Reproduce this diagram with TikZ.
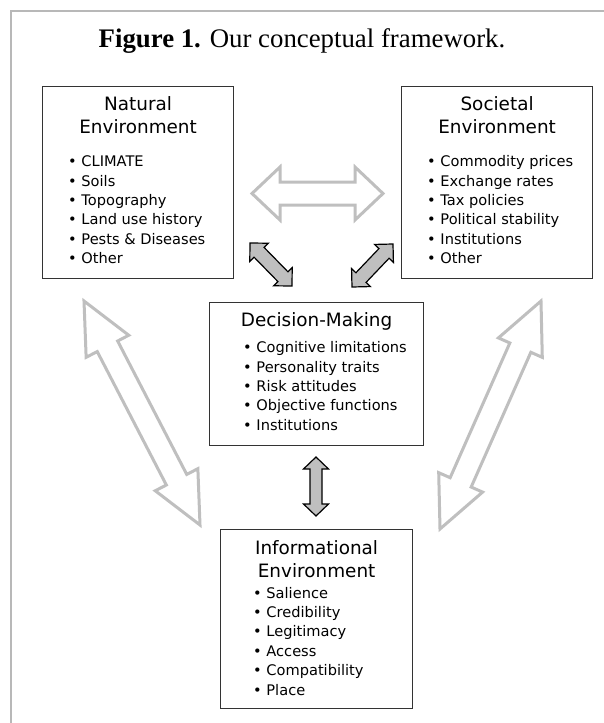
\documentclass[tikz,border=0pt]{standalone}
\usepackage{fontspec}
\setmainfont{Liberation Serif}
\newfontfamily\dejavu{DejaVu Sans}
\usetikzlibrary{calc}

\newcommand{\titlefnt}{\dejavu\fontsize{18.4}{23.2}\selectfont}
\newcommand{\listfnt}{\dejavu\fontsize{14.6}{19.4}\selectfont}

% double block arrow: [style]{from}{to}{head length}{head half width}{shaft half width}
\newcommand{\blockarrow}[6][]{%
  \path ($(#2)!#4!(#3)$) coordinate (ba-a) ($(#3)!#4!(#2)$) coordinate (ba-b);
  \draw[#1] (#2) -- ($(ba-a)!#5!90:(#3)$) -- ($(ba-a)!#6!90:(#3)$)
    -- ($(ba-b)!#6!-90:(#2)$) -- ($(ba-b)!#5!-90:(#2)$) -- (#3)
    -- ($(ba-b)!#5!90:(#2)$) -- ($(ba-b)!#6!90:(#2)$)
    -- ($(ba-a)!#6!-90:(#3)$) -- ($(ba-a)!#5!-90:(#3)$) -- cycle;
}

\begin{document}
\begin{tikzpicture}[x=1pt,y=-1pt]
\tikzset{
  envbox/.style={draw=black!80, line width=1.2pt, fill=white, inner sep=0pt, anchor=north west},
  boxtitle/.style={font=\titlefnt, align=center, inner sep=0pt, anchor=base},
  boxlist/.style={font=\listfnt, align=left, inner sep=0pt, anchor=base west},
  lightarrow/.style={draw=black!25, line width=3pt, fill=white, line join=miter},
  darkarrow/.style={draw=black, line width=1.2pt, fill=black!25, line join=miter},
  framegray/.style={draw=black!28, line width=1.5pt}
}
\useasboundingbox (0,0) rectangle (604,723);

% outer frame and caption
\draw[framegray] (11,723) -- (11,11) -- (604,11);
\node[font=\fontsize{26.8}{30}\selectfont, inner sep=0pt, anchor=base] (caption) at (302,47)
  {\textbf{Figure 1.} Our conceptual framework.};

% the four boxes
\node[envbox, minimum width=191, minimum height=192] (nat) at (42,86) {};
\node[envbox, minimum width=191, minimum height=192] (soc) at (401,86) {};
\node[envbox, minimum width=214, minimum height=143] (dec) at (209,302) {};
\node[envbox, minimum width=192, minimum height=179] (inf) at (220,529) {};

% texts (base = last line)
\node[boxtitle] (nat-title) at ($(nat.north)+(0,47.2)$) {Natural\\Environment};
\node[boxlist] (nat-list) at ($(nat.north west)+(26,177.7)$)
  {\textbullet\ CLIMATE\\\textbullet\ Soils\\\textbullet\ Topography\\
   \textbullet\ Land use history\\\textbullet\ Pests \& Diseases\\\textbullet\ Other};

\node[boxtitle] (soc-title) at ($(soc.north)+(0,47.2)$) {Societal\\Environment};
\node[boxlist] (soc-list) at ($(soc.north west)+(26,177.7)$)
  {\textbullet\ Commodity prices\\\textbullet\ Exchange rates\\\textbullet\ Tax policies\\
   \textbullet\ Political stability\\\textbullet\ Institutions\\\textbullet\ Other};

\node[boxtitle] (dec-title) at ($(dec.north)+(0,24)$) {Decision-Making};
\node[boxlist] (dec-list) at ($(dec.north west)+(34,128.3)$)
  {\textbullet\ Cognitive limitations\\\textbullet\ Personality traits\\\textbullet\ Risk attitudes\\
   \textbullet\ Objective functions\\\textbullet\ Institutions};

\node[boxtitle] (inf-title) at ($(inf.north)+(0,48.6)$) {Informational\\Environment};
\node[boxlist] (inf-list) at ($(inf.north west)+(33,166)$)
  {\textbullet\ Salience\\\textbullet\ Credibility\\\textbullet\ Legitimacy\\
   \textbullet\ Access\\\textbullet\ Compatibility\\\textbullet\ Place};

% arrow ends
\coordinate (nat-soc-a) at (252,193.5);
\coordinate (nat-soc-b) at (383,193.5);
\coordinate (nat-inf-a) at (84,301);
\coordinate (nat-inf-b) at (200,525);
\coordinate (soc-inf-a) at (541,301);
\coordinate (soc-inf-b) at (440,529);
\coordinate (nat-dec-a) at (250,243);
\coordinate (nat-dec-b) at (292,286);
\coordinate (soc-dec-a) at (393,244);
\coordinate (soc-dec-b) at (352,287);
\coordinate (dec-inf-a) at (316,457);
\coordinate (dec-inf-b) at (316,516);

% links between the environments
\blockarrow[lightarrow]{nat-soc-a}{nat-soc-b}{28pt}{26.5pt}{11.5pt}
\blockarrow[lightarrow]{nat-inf-a}{nat-inf-b}{51pt}{24pt}{11.5pt}
\blockarrow[lightarrow]{soc-inf-a}{soc-inf-b}{51pt}{24pt}{11.5pt}
% links to decision-making
\blockarrow[darkarrow]{nat-dec-a}{nat-dec-b}{13pt}{13pt}{7pt}
\blockarrow[darkarrow]{soc-dec-a}{soc-dec-b}{13pt}{13pt}{7pt}
\blockarrow[darkarrow]{dec-inf-a}{dec-inf-b}{12pt}{12.5pt}{6pt}
\end{tikzpicture}
\end{document}
